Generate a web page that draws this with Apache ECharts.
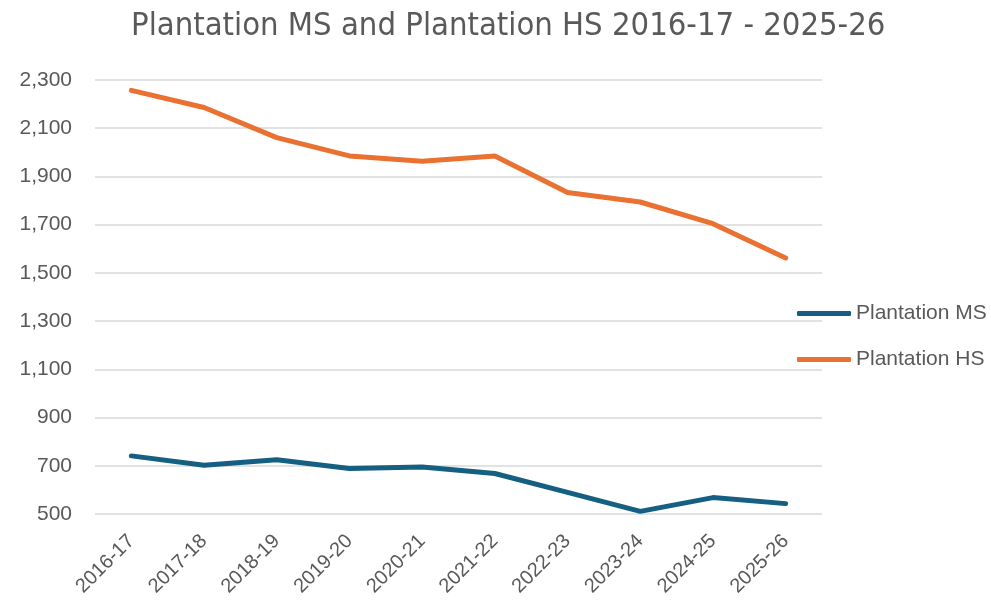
<!DOCTYPE html>
<html>
<head>
<meta charset="utf-8">
<script src="https://cdn.jsdelivr.net/npm/echarts@6/dist/echarts.min.js"></script>
<style>
  html, body { margin: 0; padding: 0; background: #fff; }
  #chart { width: 991px; height: 601px; }
</style>
</head>
<body>
<div id="chart"></div>
<script>
// school years
var years = ['2016-17', '2017-18', '2018-19', '2019-20', '2020-21',
             '2021-22', '2022-23', '2023-24', '2024-25', '2025-26'];
// enrollment
var plantationMS = [741, 702, 725, 689, 695, 668, 590, 511, 568, 543];
var plantationHS = [2257, 2186, 2061, 1985, 1963, 1985, 1833, 1794, 1704, 1562];
var yTicks = { min: 500, max: 2300, step: 200 };

var txtColor = '#595959';
var chart = echarts.init(document.getElementById('chart'));
var option = {
  backgroundColor: '#fff',
  title: {
    text: 'Plantation MS and Plantation HS 2016-17 - 2025-26',
    left: 126,
    top: 5,
    textStyle: {
      fontFamily: "'DejaVu Sans Condensed', 'Liberation Sans Narrow', Roboto, sans-serif",
      fontSize: 32.5,
      fontWeight: 'normal',
      color: txtColor
    }
  },
  legend: {
    orient: 'vertical',
    left: 792,
    top: 298,
    itemGap: 25,
    itemWidth: 54,
    itemHeight: 5,
    icon: 'roundRect',
    textStyle: {
      fontFamily: 'Liberation Sans',
      fontSize: 21,
      color: txtColor
    },
    data: ['Plantation MS', 'Plantation HS']
  },
  grid: {
    left: 95,
    right: 169,
    top: 80,
    bottom: 87,
    containLabel: false
  },
  xAxis: {
    type: 'category',
    data: years,
    boundaryGap: true,
    axisLine: { show: false },
    axisTick: { show: false },
    axisLabel: {
      rotate: 45,
      margin: 24,
      fontFamily: 'Liberation Sans',
      fontSize: 20,
      color: txtColor
    }
  },
  yAxis: {
    type: 'value',
    min: yTicks.min,
    max: yTicks.max,
    interval: yTicks.step,
    axisLine: { show: false },
    axisTick: { show: false },
    splitLine: { lineStyle: { color: '#d9d9d9', width: 1.5 } },
    axisLabel: {
      margin: 23,
      fontFamily: 'Liberation Sans',
      fontSize: 21,
      color: txtColor,
      formatter: function(v) {
        return v.toLocaleString('en-US');
      }
    }
  },
  series: [
    {
      name: 'Plantation MS',
      type: 'line',
      data: plantationMS,
      symbol: 'none',
      color: '#156082',
      lineStyle: { width: 5, cap: 'round', join: 'round' }
    },
    {
      name: 'Plantation HS',
      type: 'line',
      data: plantationHS,
      symbol: 'none',
      color: '#E97132',
      lineStyle: { width: 5, cap: 'round', join: 'round' }
    }
  ],
  animation: false
};
chart.setOption(option);
</script>
</body>
</html>
